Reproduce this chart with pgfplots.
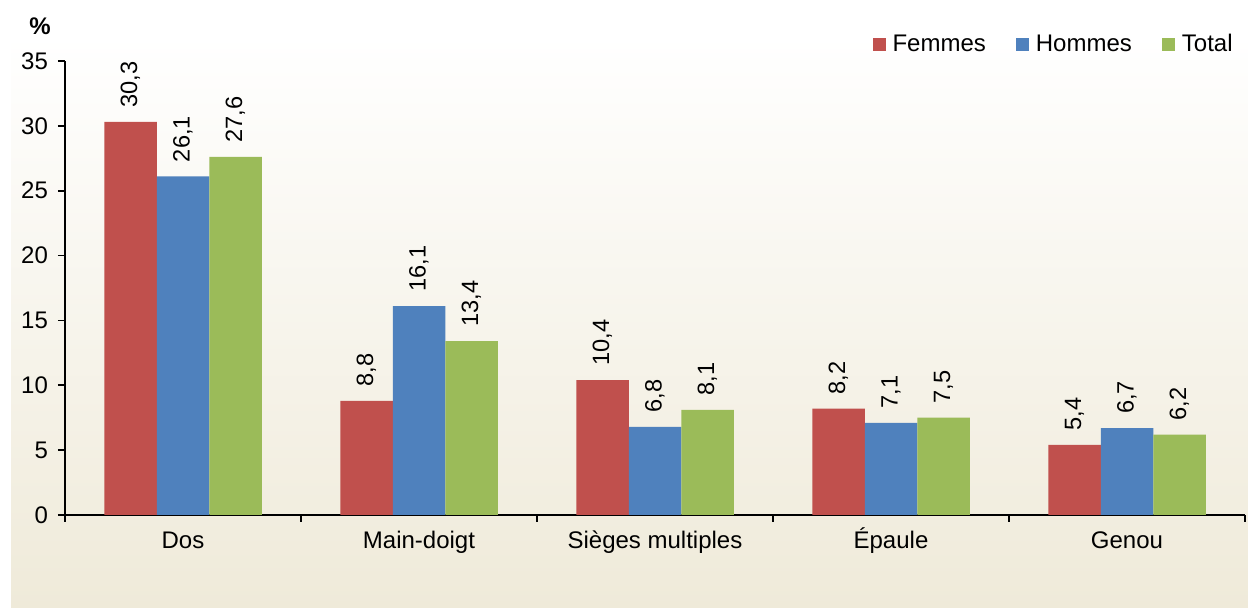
\documentclass[border=0pt]{standalone}
\usepackage{fontspec}
\setmainfont{Liberation Sans}
\usepackage{pgfplots}
\pgfplotsset{compat=1.18}
\definecolor{femmes}{HTML}{C0504D}
\definecolor{hommes}{HTML}{4F81BD}
\definecolor{total}{HTML}{9BBB59}
\definecolor{bgbeige}{HTML}{EFEAD9}

\begin{document}
\begin{tikzpicture}
\useasboundingbox (-32.5pt,-47pt) rectangle (591.5pt,257.5pt);
\shade[top color=white, bottom color=bgbeige] (-27pt,-46.5pt) rectangle (591.5pt,240pt);
\begin{axis}[
    scale only axis,
    clip=false,
    width=590pt, height=227pt,
    ybar=0pt,
    bar width=26.25pt,
    xmin=-0.5, xmax=4.5,
    ymin=0, ymax=35,
    ytick={0,5,...,35},
    xtick={0,1,2,3,4},
    xticklabels={Dos, Main-doigt, Sièges multiples, Épaule, Genou},
    minor xtick={-0.5,0.5,...,4.5},
    major x tick style={draw=none},
    tick align=outside,
    major tick length=3.5pt,
    minor tick length=3.5pt,
    tick style={black, line width=0.8pt},
    axis x line*=bottom,
    axis y line*=left,
    axis line style={black, line width=0.8pt},
    tick label style={font=\fontsize{12}{14}\selectfont},
    xticklabel style={text height=8.6pt, text depth=2.5pt, yshift=-1pt},
    yticklabel style={xshift=-1.5pt},
    /pgf/number format/assume math mode=true,
    nodes near coords={\pgfmathprintnumber[use comma,fixed,fixed zerofill,precision=1,assume math mode=true]{\pgfplotspointmeta}},
    every node near coord/.append style={rotate=90, anchor=west, inner sep=7pt, font=\fontsize{11.8}{14}\selectfont},
    legend columns=3,
    legend style={draw=none, fill=none, at={(1,1)}, anchor=south east, xshift=-1pt, yshift=-1pt,
        font=\fontsize{12}{14}\selectfont,
        /tikz/every even column/.append style={column sep=13pt}},
    legend image code/.code={\fill[#1] (0pt,-3.25pt) rectangle (6.5pt,3.25pt); \path (8pt,0pt);},
]
\addplot[fill=femmes, draw=none] coordinates {(0,30.3) (1,8.8) (2,10.4) (3,8.2) (4,5.4)};
\addplot[fill=hommes, draw=none] coordinates {(0,26.1) (1,16.1) (2,6.8) (3,7.1) (4,6.7)};
\addplot[fill=total, draw=none] coordinates {(0,27.6) (1,13.4) (2,8.1) (3,7.5) (4,6.2)};
\legend{Femmes, Hommes, Total}
\node[font=\bfseries\fontsize{12}{14}\selectfont] at ([xshift=-12.5pt, yshift=17.5pt]rel axis cs:0,1) {\%};
\end{axis}
\end{tikzpicture}
\end{document}
